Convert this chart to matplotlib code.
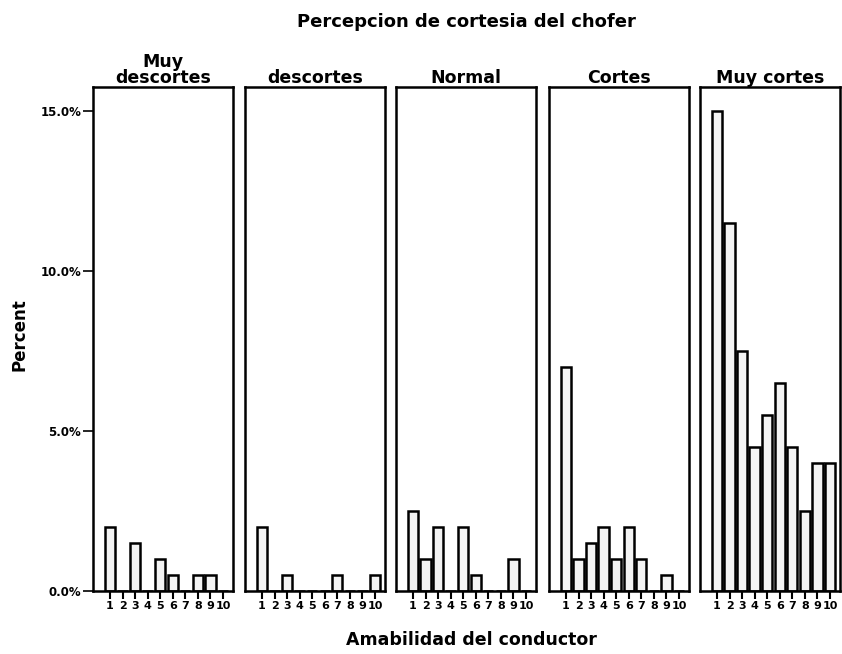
import numpy as np
import matplotlib
matplotlib.use("Agg")
import matplotlib.pyplot as plt
from matplotlib.ticker import FuncFormatter

plt.rcParams['font.family'] = ['DejaVu Sans']
plt.rcParams['font.weight'] = 'bold'

# Porcentaje por categoria de cortesia y nivel de amabilidad (1..10)
niveles = np.arange(1, 11)
paneles = ["Muy\ndescortes", "descortes", "Normal", "Cortes", "Muy cortes"]
muy_descortes = [2.0, 0, 1.5, 0, 1.0, 0.5, 0, 0.5, 0.5, 0]
descortes = [2.0, 0, 0.5, 0, 0, 0, 0.5, 0, 0, 0.5]
normal = [2.5, 1.0, 2.0, 0, 2.0, 0.5, 0, 0, 1.0, 0]
cortes = [7.0, 1.0, 1.5, 2.0, 1.0, 2.0, 1.0, 0, 0.5, 0]
muy_cortes = [15.0, 11.5, 7.5, 4.5, 5.5, 6.5, 4.5, 2.5, 4.0, 4.0]
datos = [muy_descortes, descortes, normal, cortes, muy_cortes]
yticks = [0, 5, 10, 15]

fig = plt.figure(figsize=(8.42, 6.54), dpi=100)

lefts = [93, 245, 396, 549, 700]
W, H = 842.0, 654.0
for i, (nombre, vals) in enumerate(zip(paneles, datos)):
    ax = fig.add_axes([lefts[i] / W, 1 - 591 / H, 140 / W, (591 - 87) / H])
    ax.bar(niveles, vals, width=0.82, facecolor='#f3f3f3',
           edgecolor='black', linewidth=1.8)
    ax.set_xlim(-0.35, 10.8)
    ax.set_ylim(0, 15.75)
    ax.set_xticks(niveles)
    ax.set_xticklabels([str(n) for n in niveles], fontsize=8)
    ax.tick_params(axis='x', direction='out', length=6, width=1.5, pad=1.5)
    for s in ax.spines.values():
        s.set_linewidth(1.8)
    ax.set_title(nombre, fontsize=12.5, fontweight='bold', pad=3, linespacing=0.85)
    if i == 0:
        ax.set_yticks(yticks)
        ax.yaxis.set_major_formatter(FuncFormatter(lambda v, p: f"{v:.1f}%"))
        ax.tick_params(axis='y', direction='out', length=7, width=1.2,
                       labelsize=8.5, pad=1.5)
    else:
        ax.set_yticks([])

fig.text(466 / W, 1 - 22 / H, "Percepcion de cortesia del chofer",
         ha='center', va='center', fontsize=13, fontweight='bold')
fig.text(19 / W, 1 - 335 / H, "Percent", rotation=90,
         ha='center', va='center', fontsize=12, fontweight='bold')
fig.text(471 / W, 1 - 640 / H, "Amabilidad del conductor",
         ha='center', va='center', fontsize=12.5, fontweight='bold')

fig.savefig("out.png", dpi=100, facecolor='white')
